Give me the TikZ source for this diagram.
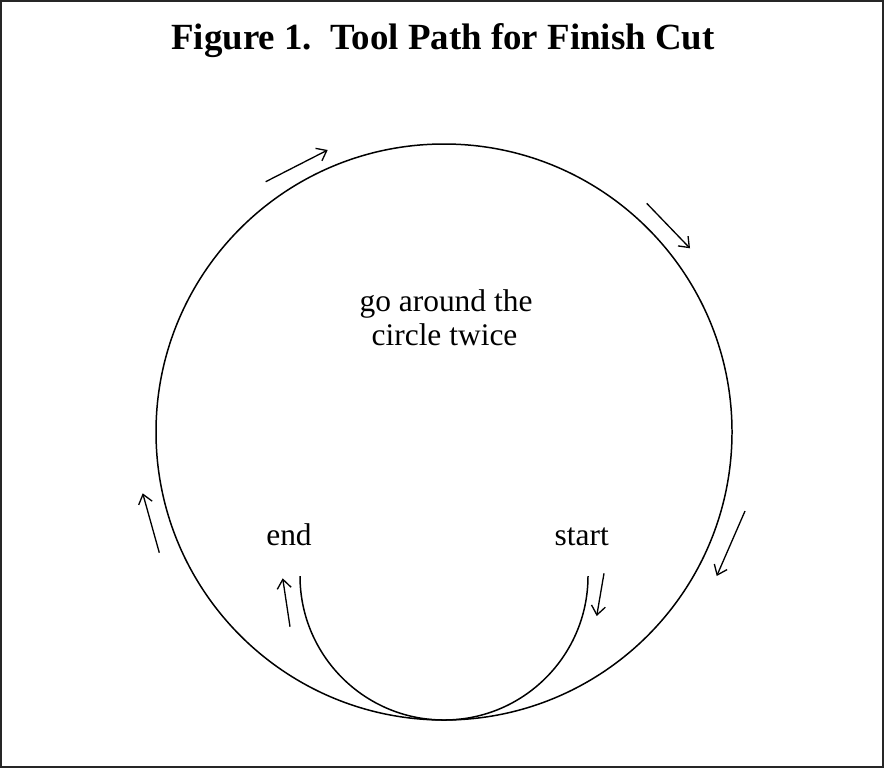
\documentclass[tikz,border=0pt]{standalone}
\usepackage{fontspec}
\setmainfont{Liberation Serif}
\usetikzlibrary{arrows.meta}
\tikzstyle{frameline} = [line width=1.4pt, draw=black!85]
\tikzstyle{pathline} = [line width=0.85pt]
\tikzstyle{dirarrow} = [line width=0.75pt, -{Straight Barb[length=1.8mm, width=2.8mm]}]
\tikzstyle{headtext} = [inner sep=0pt, anchor=base, font=\fontsize{21}{23}\selectfont\bfseries]
\tikzstyle{plaintext} = [inner sep=0pt, anchor=base, font=\fontsize{17.9}{19}\selectfont]

\begin{document}
\begin{tikzpicture}[x=0.02cm, y=-0.02cm]
\useasboundingbox (0,0) rectangle (884,768);
\draw[frameline] (1.25,1.25) rectangle (882.75,766.75);

\node (title) [headtext] at (443,49) {Figure 1.\ \ Tool Path for Finish Cut};
\node (note1) [plaintext] at (446,311.7) {go around the};
\node (note2) [plaintext] at (444.5,345.7) {circle twice};
\node (endlabel) [plaintext] at (289,545) {end};
\node (startlabel) [plaintext] at (581.7,545) {start};

% tool path
\draw[pathline] (444,432) circle [radius=288];
\draw[pathline] (300,576) arc [start angle=180, end angle=0, radius=144];

% direction marks
\coordinate (a1s) at (265.7,181.7);
\coordinate (a1e) at (327.7,150);
\coordinate (a2s) at (646.7,203.3);
\coordinate (a2e) at (690,248.3);
\coordinate (a3s) at (745,511);
\coordinate (a3e) at (716.7,576);
\coordinate (a4s) at (159.3,552.7);
\coordinate (a4e) at (142.7,493.3);
\coordinate (a5s) at (290,626.7);
\coordinate (a5e) at (282.7,578.3);
\coordinate (a6s) at (604,573.3);
\coordinate (a6e) at (596.7,616);

\draw[dirarrow] (a1s) -- (a1e);
\draw[dirarrow] (a2s) -- (a2e);
\draw[dirarrow] (a3s) -- (a3e);
\draw[dirarrow] (a4s) -- (a4e);
\draw[dirarrow] (a5s) -- (a5e);
\draw[dirarrow] (a6s) -- (a6e);

\end{tikzpicture}
\end{document}
